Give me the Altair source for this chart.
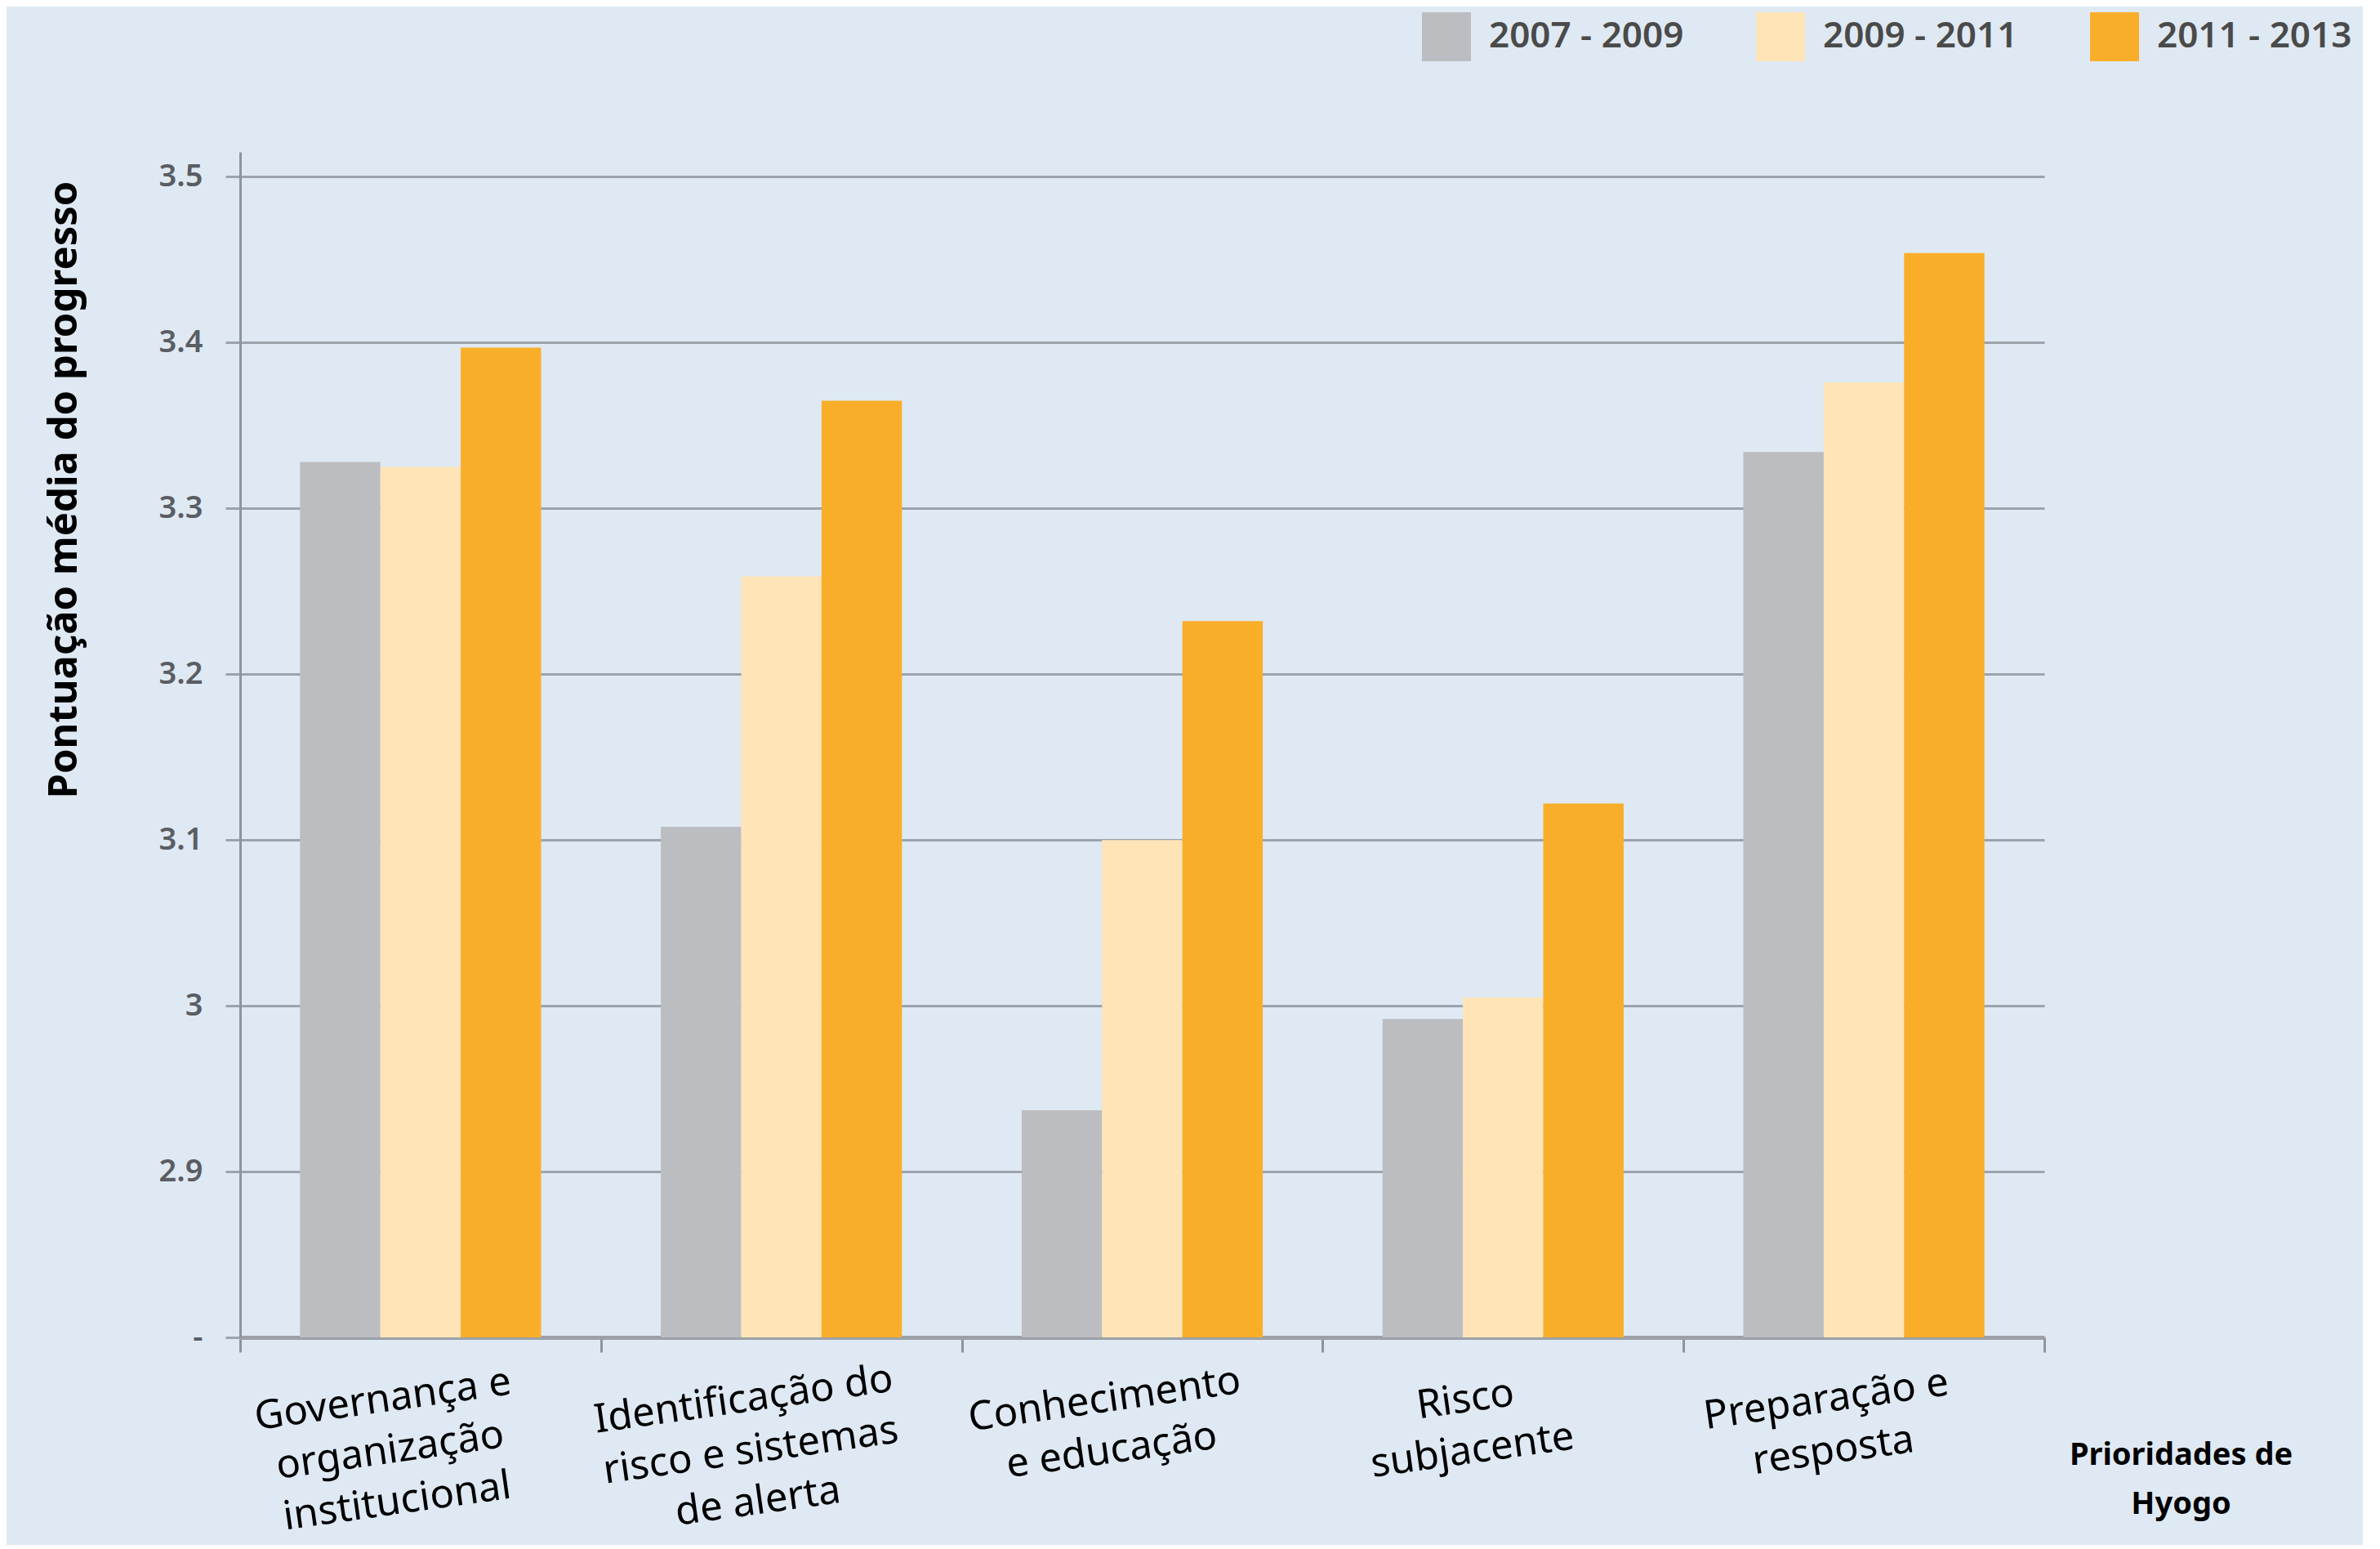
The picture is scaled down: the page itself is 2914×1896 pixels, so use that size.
import altair as alt
import pandas as pd

categories = [
    "Governança e|organização|institucional",
    "Identificação do|risco e sistemas|de alerta",
    "Conhecimento|e educação",
    "Risco|subjacente",
    "Preparação e|resposta",
]
periods = ["2007 - 2009", "2009 - 2011", "2011 - 2013"]
v_2007_2009 = [3.328, 3.108, 2.937, 2.992, 3.334]
v_2009_2011 = [3.325, 3.259, 3.100, 3.005, 3.376]
v_2011_2013 = [3.397, 3.365, 3.232, 3.122, 3.454]
colors = ["#bcbdc1", "#fee4b7", "#f9ae29"]
y_ticks = [2.8, 2.9, 3.0, 3.1, 3.2, 3.3, 3.4, 3.5]

rows = []
for series, vals in zip(periods, [v_2007_2009, v_2009_2011, v_2011_2013]):
    for c, v in zip(categories, vals):
        rows.append({"cat": c, "period": series, "value": v})
df = pd.DataFrame(rows)

font = "Noto Sans"

chart = alt.Chart(df).mark_bar().encode(
    x=alt.X(
        "cat:N",
        sort=categories,
        scale=alt.Scale(paddingInner=0, paddingOuter=0),
        axis=alt.Axis(
            title=["Prioridades de", "Hyogo"],
            titleFont=font,
            titleFontWeight="bold",
            titleFontSize=38,
            titleColor="#000000",
            titleX=2376,
            titleY=125,
            titleAlign="center",
            titleBaseline="top",
            titleLineHeight=60,
            tickBand="extent",
            tickSize=18,
            tickWidth=3,
            tickColor="#8f949c",
            domainColor="#9ca1a8",
            domainWidth=5,
            labelExpr="split(datum.label, '|')",
            labelFont=font,
            labelFontSize=49,
            labelLineHeight=63,
            labelColor="#000000",
            labelAngle=352,
            labelAlign="center",
            labelBaseline="top",
            labelPadding=34,
            labelOffset=-50,
            labelLimit=0,
        ),
    ),
    xOffset=alt.XOffset(
        "period:N", sort=periods, scale=alt.Scale(paddingOuter=0.745, paddingInner=0)
    ),
    y=alt.Y(
        "value:Q",
        scale=alt.Scale(domain=[2.8, 3.515], nice=False, zero=False),
        axis=alt.Axis(
            title="Pontuação  média do progresso",
            titleFont=font,
            titleFontWeight="bold",
            titleFontSize=49,
            titleColor="#000000",
            titleX=-216,
            titleY=413,
            titleAngle=270,
            titleAlign="center",
            titleBaseline="middle",
            values=y_ticks,
            labelExpr="datum.value < 2.85 ? '-' : toString(round(datum.value * 10) / 10)",
            labelFont=font,
            labelFontSize=38,
            labelFontWeight=600,
            labelColor="#5a5d63",
            labelPadding=28,
            tickSize=18,
            tickWidth=3,
            tickColor="#9da3ab",
            domainColor="#8f949c",
            domainWidth=3,
            grid=True,
            gridColor="#9da3ab",
            gridWidth=3,
        ),
    ),
    y2=alt.datum(2.8),
    color=alt.Color(
        "period:N",
        sort=periods,
        scale=alt.Scale(domain=periods, range=colors),
        legend=alt.Legend(
            title=None,
            orient="none",
            direction="horizontal",
            legendX=1447,
            legendY=-171,
            symbolType="square",
            symbolSize=3600,
            symbolStrokeWidth=0,
            symbolOpacity=1,
            labelFont=font,
            labelFontSize=44,
            labelFontWeight=600,
            labelColor="#4a4a4a",
            labelOffset=22,
            labelLimit=0,
            columnPadding=88,
        ),
    ),
).properties(
    width=2209,
    height=1451,
    autosize=alt.AutoSizeParams(type="none"),
    padding={"left": 286, "top": 178, "right": 390, "bottom": 254},
    background="#dfe9f3",
).configure_view(
    stroke=None,
    fill="#dfe9f3",
)

chart.save("out.html", embed_options={"renderer": "svg", "actions": False})
